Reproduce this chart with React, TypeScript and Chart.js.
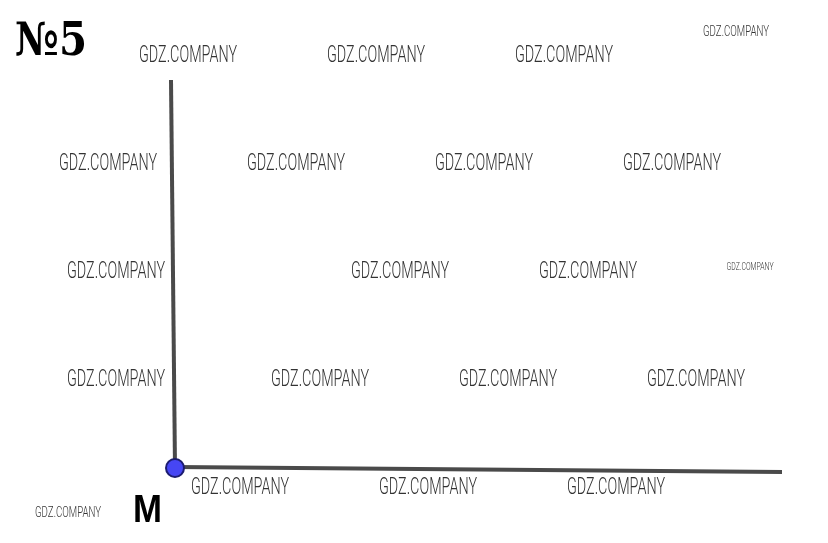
import React, { useEffect, useRef } from "react";
import { Chart, registerables } from "chart.js";

Chart.register(...registerables);

// Geometry (in picture units; drawn through the chart's linear scales)
const verticalRay = [
  { x: 171, y: 80 },
  { x: 175, y: 468 },
];
const horizontalRay = [
  { x: 175, y: 467 },
  { x: 782, y: 472 },
];
const pointM = [{ x: 175, y: 468 }];

// Labels
const titleText = "№5";
const pointLabel = "M";
const watermarkText = "GDZ.COMPANY";

// Watermark centres and widths
const wmX = [188, 376, 564, 108, 296, 484, 672, 116, 400, 588, 116, 320, 508, 696, 240, 428, 616, 736, 750, 68];
const wmY = [53, 53, 53, 161, 161, 161, 161, 269, 269, 269, 377, 377, 377, 377, 485, 485, 485, 30.5, 265.5, 511];
const wmW = [98, 98, 98, 98, 98, 98, 98, 98, 98, 98, 98, 98, 98, 98, 98, 98, 98, 66, 47, 66];
const wmH = [17, 17, 17, 17, 17, 17, 17, 17, 17, 17, 17, 17, 17, 17, 17, 17, 17, 11, 8, 11];

const textPlugin = {
  id: "textPlugin",
  afterDatasetsDraw(chart: any) {
    const ctx = chart.ctx as CanvasRenderingContext2D;
    const xs = chart.scales.x;
    const ys = chart.scales.y;
    ctx.save();
    // watermarks
    for (let i = 0; i < wmX.length; i++) {
      const cx = xs.getPixelForValue(wmX[i]);
      const cy = ys.getPixelForValue(wmY[i]);
      const h = wmH[i];
      const fontSize = h / 0.711;
      ctx.font = `300 ${fontSize}px Roboto, "DejaVu Sans", sans-serif`;
      const m = ctx.measureText(watermarkText).width;
      const sx = wmW[i] / m;
      ctx.save();
      ctx.translate(cx, cy + h / 2);
      ctx.scale(sx, 1);
      ctx.fillStyle = "#333333";
      ctx.textAlign = "center";
      ctx.textBaseline = "alphabetic";
      ctx.fillText(watermarkText, 0, 0);
      ctx.restore();
    }
    // title
    ctx.fillStyle = "#000";
    ctx.font = `bold 46px "DejaVu Serif", "Liberation Serif", serif`;
    ctx.textBaseline = "alphabetic";
    ctx.textAlign = "left";
    {
      const m = ctx.measureText(titleText).width;
      const x0 = xs.getPixelForValue(15);
      const y0 = ys.getPixelForValue(55);
      ctx.save();
      ctx.translate(x0, y0);
      ctx.scale(72 / m, 1);
      ctx.fillText(titleText, 0, 0);
      ctx.restore();
    }
    // point label
    ctx.font = `bold 38px "Liberation Sans", Arial, sans-serif`;
    {
      const m = ctx.measureText(pointLabel).width;
      const x0 = xs.getPixelForValue(133);
      const y0 = ys.getPixelForValue(522);
      ctx.save();
      ctx.translate(x0, y0);
      ctx.scale(29 / m, 1);
      ctx.fillText(pointLabel, 0, 0);
      ctx.restore();
    }
    ctx.restore();
  },
};

export default function App() {
  const ref = useRef<HTMLCanvasElement | null>(null);
  useEffect(() => {
    if (!ref.current) return;
    const chart = new Chart(ref.current, {
      type: "scatter",
      data: {
        datasets: [
          {
            data: verticalRay,
            showLine: true,
            borderColor: "#4a4a4a",
            borderWidth: 4,
            pointRadius: 0,
            borderCapStyle: "butt",
            order: 2,
          },
          {
            data: horizontalRay,
            showLine: true,
            borderColor: "#4a4a4a",
            borderWidth: 4,
            pointRadius: 0,
            order: 1,
          },
          {
            data: pointM,
            pointRadius: 9,
            pointBackgroundColor: "#4646f4",
            pointBorderColor: "#1c1c70",
            pointBorderWidth: 2,
            order: 0,
          },
        ],
      } as any,
      options: {
        animation: false,
        responsive: true,
        maintainAspectRatio: false,
        layout: { padding: 0, autoPadding: false },
        plugins: {
          legend: { display: false },
          tooltip: { enabled: false },
        },
        scales: {
          x: { type: "linear", min: 0, max: 828, display: false },
          y: { type: "linear", min: 0, max: 543, reverse: true, display: false },
        },
      } as any,
      plugins: [textPlugin],
    });
    return () => chart.destroy();
  }, []);
  return (
    <div style={{ position: "fixed", left: 0, top: 0, width: 828, height: 543, background: "#fff" }}>
      <canvas ref={ref} />
    </div>
  );
}
